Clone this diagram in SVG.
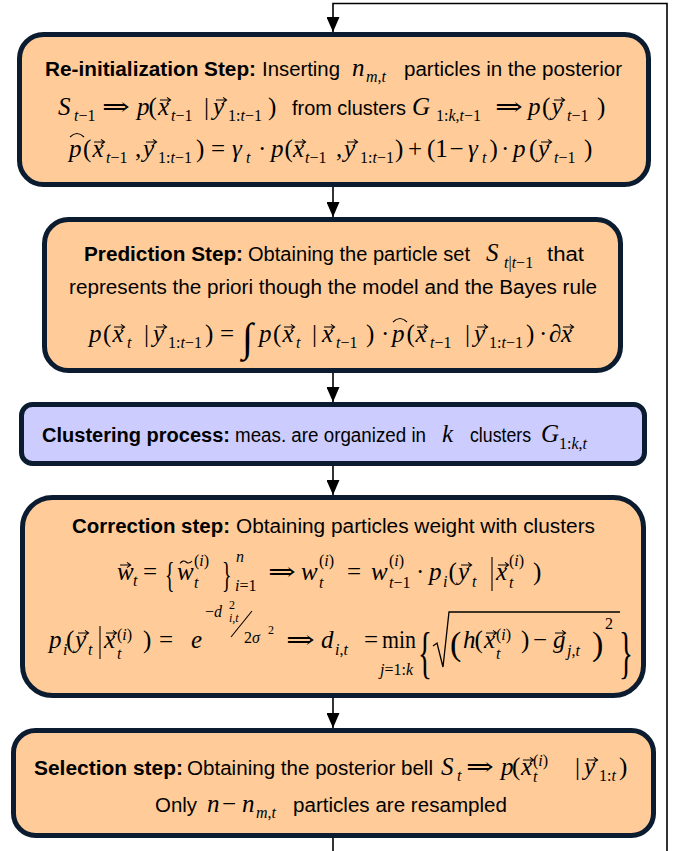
<svg xmlns="http://www.w3.org/2000/svg" xmlns:xlink="http://www.w3.org/1999/xlink" width="686" height="851" viewBox="0 0 686 851">
<style>
.box{stroke:#0c1c30;stroke-width:5}
.or{fill:#ffcc99}
.lv{fill:#ccccff}
.t{font-family:"Liberation Sans",Arial,sans-serif;font-size:20px;fill:#000}
.tb{font-family:"Liberation Sans",Arial,sans-serif;font-size:20px;font-weight:bold;fill:#000}
.m{font-family:"Liberation Serif","DejaVu Serif",serif;font-size:25px;font-style:italic;fill:#000}
.u{font-family:"Liberation Serif","DejaVu Serif",serif;font-size:25px;fill:#000}
.s{font-family:"Liberation Serif","DejaVu Serif",serif;font-size:16px;fill:#000}
.ss{font-family:"Liberation Serif","DejaVu Serif",serif;font-size:12px;fill:#000}
.i{font-style:italic}
.acc{fill:none;stroke:#000;stroke-width:1.1}
.conn{fill:none;stroke:#000;stroke-width:1.6}
</style>
<defs>
<path id="vec" class="acc" d="M0,0H10M7,-2.6L10.6,0L7,2.6"/>
<path id="hat" class="acc" d="M0,4Q7,-3 14,4"/>
<path id="til" class="acc" d="M0,1.5Q3,-2.5 6,0T12,-1"/>
<marker id="ah" viewBox="0 0 15 13" refX="15" refY="6.5" markerWidth="15" markerHeight="13" markerUnits="userSpaceOnUse" orient="auto">
<path d="M0,0L15,6.5L0,13z" fill="#000"/>
</marker>
</defs>

<g id="connectors">
<path class="conn" d="M667,851V3.5H333V32" marker-end="url(#ah)"/>
<path class="conn" d="M333,187V217" marker-end="url(#ah)"/>
<path class="conn" d="M333,373V402" marker-end="url(#ah)"/>
<path class="conn" d="M333,466V495" marker-end="url(#ah)"/>
<path class="conn" d="M333,698V728" marker-end="url(#ah)"/>
<path class="conn" d="M333,838V851"/>
</g>

<g id="reinit">
<rect class="box or" x="19.5" y="34.5" width="629" height="150" rx="24"/>
<text class="tb" x="45" y="76" textLength="211" lengthAdjust="spacingAndGlyphs">Re-initialization Step:</text>
<text class="t" x="262" y="76" textLength="78" lengthAdjust="spacingAndGlyphs">Inserting</text>
<text class="m" x="352" y="76">n</text>
<text class="s" x="366" y="82"><tspan class="i">m</tspan>,<tspan class="i">t</tspan></text>
<text class="t" x="404" y="76" textLength="218" lengthAdjust="spacingAndGlyphs">particles in the posterior</text>
<!-- line 2 -->
<text class="m" x="58" y="115">S</text>
<text class="s" x="74" y="121"><tspan class="i">t</tspan>−1</text>
<text class="u" x="102" y="115" textLength="28" lengthAdjust="spacingAndGlyphs">⇒</text>
<text class="m" x="137" y="115">p</text>
<text class="u" x="148.5" y="115">(</text>
<text class="m" x="158" y="115">x</text><use href="#vec" x="160" y="100"/>
<text class="s" x="171" y="121"><tspan class="i">t</tspan>−1</text>
<text class="u" x="204" y="115">|</text>
<text class="m" x="213" y="115">y</text><use href="#vec" x="216" y="100"/>
<text class="s" x="228" y="121">1:<tspan class="i">t</tspan>−1</text>
<text class="u" x="268" y="115">)</text>
<text class="t" x="292" y="115" textLength="114" lengthAdjust="spacingAndGlyphs">from clusters</text>
<text class="m" x="412" y="115">G</text>
<text class="s" x="436" y="121">1:<tspan class="i">k</tspan>,<tspan class="i">t</tspan>−1</text>
<text class="u" x="495" y="115" textLength="28" lengthAdjust="spacingAndGlyphs">⇒</text>
<text class="m" x="528" y="115">p</text>
<text class="u" x="542" y="115">(</text>
<text class="m" x="551.5" y="115">y</text><use href="#vec" x="554" y="100"/>
<text class="s" x="567" y="121"><tspan class="i">t</tspan>−1</text>
<text class="u" x="597" y="115">)</text>
<!-- line 3 -->
<text class="m" x="69" y="157">p</text><use href="#hat" x="70" y="133"/>
<text class="u" x="83" y="157">(</text>
<text class="m" x="92.5" y="157">x</text><use href="#vec" x="94" y="142"/>
<text class="s" x="106" y="163"><tspan class="i">t</tspan>−1</text>
<text class="u" x="135" y="157">,</text>
<text class="m" x="143" y="157">y</text><use href="#vec" x="146" y="142"/>
<text class="s" x="158" y="163">1:<tspan class="i">t</tspan>−1</text>
<text class="u" x="196" y="157">)</text>
<text class="u" x="211" y="157">=</text>
<text class="m" x="232" y="157">γ</text>
<text class="s" x="246" y="163"><tspan class="i">t</tspan></text>
<text class="u" x="258" y="157">·</text>
<text class="m" x="271" y="157">p</text>
<text class="u" x="284.5" y="157">(</text>
<text class="m" x="293" y="157">x</text><use href="#vec" x="295" y="142"/>
<text class="s" x="305" y="163"><tspan class="i">t</tspan>−1</text>
<text class="u" x="336" y="157">,</text>
<text class="m" x="344" y="157">y</text><use href="#vec" x="347" y="142"/>
<text class="s" x="360" y="163">1:<tspan class="i">t</tspan>−1</text>
<text class="u" x="395" y="157">)</text>
<text class="u" x="408" y="157">+</text>
<text class="u" x="427" y="157">(1</text>
<text class="u" x="449.5" y="157">−</text>
<text class="m" x="468" y="157">γ</text>
<text class="s" x="482" y="163"><tspan class="i">t</tspan></text>
<text class="u" x="489.5" y="157">)</text>
<text class="u" x="501" y="157">·</text>
<text class="m" x="513" y="157">p</text>
<text class="u" x="529" y="157">(</text>
<text class="m" x="538" y="157">y</text><use href="#vec" x="541" y="142"/>
<text class="s" x="554" y="163"><tspan class="i">t</tspan>−1</text>
<text class="u" x="584" y="157">)</text>
</g>

<g id="prediction">
<rect class="box or" x="44.5" y="219.5" width="576" height="151" rx="24"/>
<text class="tb" x="84" y="261" textLength="159" lengthAdjust="spacingAndGlyphs">Prediction Step:</text>
<text class="t" x="248" y="261" textLength="222" lengthAdjust="spacingAndGlyphs">Obtaining the particle set</text>
<text class="m" x="486" y="261">S</text>
<text class="s" x="504" y="268"><tspan class="i">t</tspan>|<tspan class="i">t</tspan>−1</text>
<text class="t" x="547" y="261" textLength="37" lengthAdjust="spacingAndGlyphs">that</text>
<text class="t" x="69" y="294" textLength="528" lengthAdjust="spacingAndGlyphs">represents the priori though the model and the Bayes rule</text>
<text class="m" x="89" y="342">p</text>
<text class="u" x="103" y="342">(</text>
<text class="m" x="112.5" y="342">x</text><use href="#vec" x="114" y="327"/>
<text class="s" x="127" y="348"><tspan class="i">t</tspan></text>
<text class="u" x="144" y="342">|</text>
<text class="m" x="153" y="342">y</text><use href="#vec" x="156" y="327"/>
<text class="s" x="168" y="348">1:<tspan class="i">t</tspan>−1</text>
<text class="u" x="205" y="342">)</text>
<text class="u" x="220" y="342">=</text>
<text class="u" x="242" y="351" style="font-size:40px">∫</text>
<text class="m" x="259" y="342">p</text>
<text class="u" x="273" y="342">(</text>
<text class="m" x="282.5" y="342">x</text><use href="#vec" x="284" y="327"/>
<text class="s" x="296" y="348"><tspan class="i">t</tspan></text>
<text class="u" x="312" y="342">|</text>
<text class="m" x="322" y="342">x</text><use href="#vec" x="324" y="327"/>
<text class="s" x="336" y="348"><tspan class="i">t</tspan>−1</text>
<text class="u" x="366" y="342">)</text>
<text class="u" x="381" y="342">·</text>
<text class="m" x="392" y="342">p</text><use href="#hat" x="393" y="318"/>
<text class="u" x="406.5" y="342">(</text>
<text class="m" x="415.5" y="342">x</text><use href="#vec" x="417" y="327"/>
<text class="s" x="430" y="348"><tspan class="i">t</tspan>−1</text>
<text class="u" x="465" y="342">|</text>
<text class="m" x="474" y="342">y</text><use href="#vec" x="477" y="327"/>
<text class="s" x="489" y="348">1:<tspan class="i">t</tspan>−1</text>
<text class="u" x="526" y="342">)</text>
<text class="u" x="539" y="342">·</text>
<text class="m" x="549" y="342">∂</text>
<text class="m" x="561" y="342">x</text><use href="#vec" x="563" y="327"/>
</g>

<g id="clustering">
<rect class="box lv" x="21.5" y="404.5" width="623" height="59" rx="11"/>
<text class="tb" x="42" y="442" textLength="188" lengthAdjust="spacingAndGlyphs">Clustering process:</text>
<text class="t" x="235" y="442" textLength="191" lengthAdjust="spacingAndGlyphs">meas. are organized in</text>
<text class="m" x="442" y="442">k</text>
<text class="t" x="470" y="442" textLength="61" lengthAdjust="spacingAndGlyphs">clusters</text>
<text class="m" x="541" y="442">G</text>
<text class="s" x="559" y="449">1:<tspan class="i">k</tspan>,<tspan class="i">t</tspan></text>
</g>

<g id="correction">
<rect class="box or" x="22.5" y="497.5" width="621" height="198" rx="30"/>
<text class="tb" x="72" y="533" textLength="158" lengthAdjust="spacingAndGlyphs">Correction step:</text>
<text class="t" x="236" y="533" textLength="359" lengthAdjust="spacingAndGlyphs">Obtaining particles weight with clusters</text>
<!-- line 2 -->
<text class="m" x="117" y="580">w</text><use href="#vec" x="120" y="565"/>
<text class="s" x="133" y="586"><tspan class="i">t</tspan></text>
<text class="u" x="143" y="580">=</text>
<text class="u" transform="translate(165,587) scale(0.55,1)" style="font-size:36px">{</text>
<text class="m" x="177" y="580">w</text><use href="#til" x="180" y="562"/>
<text class="s" x="194" y="566">(<tspan class="i">i</tspan>)</text>
<text class="s" x="194" y="588"><tspan class="i">t</tspan></text>
<text class="u" transform="translate(222,587) scale(0.55,1)" style="font-size:36px">}</text>
<text class="s i" x="236" y="562">n</text>
<text class="s" x="235" y="591"><tspan class="i">i</tspan>=1</text>
<text class="u" x="268" y="580" textLength="28" lengthAdjust="spacingAndGlyphs">⇒</text>
<text class="m" x="301" y="580">w</text>
<text class="s" x="319" y="566">(<tspan class="i">i</tspan>)</text>
<text class="s" x="319" y="588"><tspan class="i">t</tspan></text>
<text class="u" x="347" y="580">=</text>
<text class="m" x="371" y="580">w</text>
<text class="s" x="389" y="566">(<tspan class="i">i</tspan>)</text>
<text class="s" x="389" y="588"><tspan class="i">t</tspan>−1</text>
<text class="u" x="416" y="580">·</text>
<text class="m" x="429" y="580">p</text>
<text class="s" x="443" y="587"><tspan class="i">i</tspan></text>
<text class="u" x="448.5" y="580">(</text>
<text class="m" x="458" y="580">y</text><use href="#vec" x="461" y="565"/>
<text class="s" x="472" y="587"><tspan class="i">t</tspan></text>
<path class="acc" d="M492,557V591"/>
<text class="m" x="496" y="580">x</text><use href="#vec" x="498" y="565"/>
<text class="s" x="509" y="566">(<tspan class="i">i</tspan>)</text>
<text class="s" x="509" y="588"><tspan class="i">t</tspan></text>
<text class="u" x="533" y="580">)</text>
<!-- line 3 -->
<text class="m" x="49" y="648">p</text>
<text class="s" x="63" y="655"><tspan class="i">i</tspan></text>
<text class="u" x="66" y="648">(</text>
<text class="m" x="75" y="648">y</text><use href="#vec" x="78" y="633"/>
<text class="s" x="88" y="655"><tspan class="i">t</tspan></text>
<path class="acc" d="M100,626V659"/>
<text class="m" x="104" y="648">x</text><use href="#vec" x="106" y="633"/>
<text class="s" x="117" y="640">(<tspan class="i">i</tspan>)</text>
<text class="s" x="117" y="659"><tspan class="i">t</tspan></text>
<text class="u" x="143" y="648">)</text>
<text class="u" x="159" y="648">=</text>
<text class="m" x="191" y="648">e</text>
<text class="s" x="205" y="617">−<tspan class="i">d</tspan></text>
<text class="ss" x="229" y="609">2</text>
<text class="ss" x="229" y="622"><tspan class="i">i</tspan>,<tspan class="i">t</tspan></text>
<path class="acc" d="M252,611L231,637"/>
<text class="s" x="244" y="643">2<tspan class="i">σ</tspan></text>
<text class="ss" x="268" y="634">2</text>
<text class="u" x="286" y="648" textLength="29" lengthAdjust="spacingAndGlyphs">⇒</text>
<text class="m" x="321" y="648">d</text>
<text class="s" x="335" y="655"><tspan class="i">i</tspan>,<tspan class="i">t</tspan></text>
<text class="u" x="364" y="648">=</text>
<text class="u" x="382" y="648" textLength="34" lengthAdjust="spacingAndGlyphs">min</text>
<text class="s" x="380" y="675"><tspan class="i">j</tspan>=1:<tspan class="i">k</tspan></text>
<text class="u" transform="translate(418,672) scale(0.5,1)" style="font-size:58px">{</text>
<path class="acc" d="M433,646L437,643L443,667L449,612H620" style="stroke-width:1.3"/>
<text class="u" x="450" y="655" style="font-size:34px">(</text>
<text class="m" x="463" y="648">h</text>
<text class="u" x="474.5" y="648">(</text>
<text class="m" x="484" y="648">x</text><use href="#vec" x="486" y="633"/>
<text class="s" x="496" y="640">(<tspan class="i">i</tspan>)</text>
<text class="s" x="496" y="659"><tspan class="i">t</tspan></text>
<text class="u" x="521" y="648">)</text>
<text class="u" x="533" y="648">−</text>
<text class="m" x="553" y="648">g</text><use href="#vec" x="555" y="633"/>
<text class="s" x="567" y="656"><tspan class="i">j</tspan>,<tspan class="i">t</tspan></text>
<text class="u" x="592" y="655" style="font-size:34px">)</text>
<text class="s" x="605" y="629">2</text>
<text class="u" transform="translate(619,672) scale(0.5,1)" style="font-size:58px">}</text>
</g>

<g id="selection">
<rect class="box or" x="13.5" y="730.5" width="640" height="105" rx="22"/>
<text class="tb" x="34" y="775" textLength="149" lengthAdjust="spacingAndGlyphs">Selection step:</text>
<text class="t" x="187" y="775" textLength="246" lengthAdjust="spacingAndGlyphs">Obtaining the posterior bell</text>
<text class="m" x="441" y="775">S</text>
<text class="s" x="457" y="781"><tspan class="i">t</tspan></text>
<text class="u" x="466" y="775" textLength="28" lengthAdjust="spacingAndGlyphs">⇒</text>
<text class="m" x="501" y="775">p</text>
<text class="u" x="512" y="775">(</text>
<text class="m" x="521" y="775">x</text><use href="#vec" x="523" y="760"/>
<text class="s" x="533" y="766">(<tspan class="i">i</tspan>)</text>
<text class="s" x="533" y="782"><tspan class="i">t</tspan></text>
<text class="u" x="575" y="775">|</text>
<text class="m" x="584" y="775">y</text><use href="#vec" x="587" y="760"/>
<text class="s" x="599" y="781">1:<tspan class="i">t</tspan></text>
<text class="u" x="619" y="775">)</text>
<text class="t" x="155" y="812" textLength="42" lengthAdjust="spacingAndGlyphs">Only</text>
<text class="m" x="207" y="812">n</text>
<text class="u" x="222" y="812">−</text>
<text class="m" x="242" y="812">n</text>
<text class="s" x="256" y="818"><tspan class="i">m</tspan>,<tspan class="i">t</tspan></text>
<text class="t" x="293" y="812" textLength="214" lengthAdjust="spacingAndGlyphs">particles are resampled</text>
</g>
</svg>
